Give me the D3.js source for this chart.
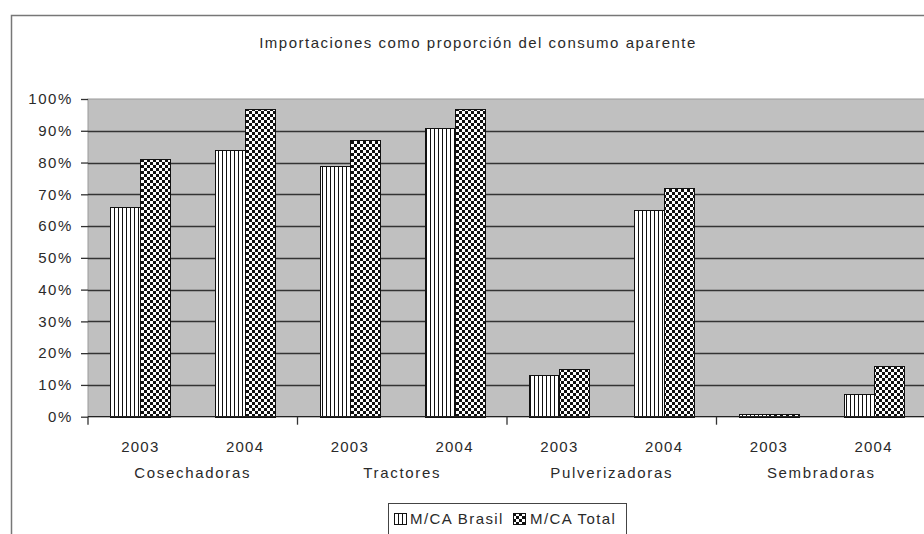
<!DOCTYPE html>
<html><head><meta charset="utf-8">
<script src="https://cdn.jsdelivr.net/npm/d3@7"></script>
<style>
html,body{margin:0;padding:0;background:#fff;}
svg{display:block;font-family:"Liberation Sans",Arial,sans-serif;}
</style></head>
<body>
<svg id="chart" width="924" height="534"></svg>
<script>
const title = "Importaciones como proporción del consumo aparente";
const categories = ["Cosechadoras","Tractores","Pulverizadoras","Sembradoras"];
const years = ["2003","2004"];
const seriesNames = ["M/CA Brasil","M/CA Total"];
const brasil = [0.66,0.84,0.79,0.91,0.13,0.65,0.01,0.07];
const total  = [0.81,0.97,0.87,0.97,0.15,0.72,0.01,0.16];
const yTicks = [0,0.1,0.2,0.3,0.4,0.5,0.6,0.7,0.8,0.9,1.0];

const svg = d3.select("#chart");
const plot = {left:88, right:926, top:99, bottom:416.7};
const textColor = "#2a2a2a";

// patterns
const defs = svg.append("defs");
const pv = defs.append("pattern").attr("id","pv").attr("patternUnits","userSpaceOnUse")
  .attr("width",4).attr("height",4);
pv.append("rect").attr("width",4).attr("height",4).attr("fill","#fff");
pv.append("rect").attr("x",2).attr("width",1).attr("height",4).attr("fill","#111");
const pc = defs.append("pattern").attr("id","pc").attr("patternUnits","userSpaceOnUse")
  .attr("width",6).attr("height",6);
pc.append("rect").attr("width",6).attr("height",6).attr("fill","#fff");
pc.append("rect").attr("width",3).attr("height",3).attr("fill","#111");
pc.append("rect").attr("x",3).attr("y",3).attr("width",3).attr("height",3).attr("fill","#111");

// chart area border
svg.append("rect").attr("x",11.5).attr("y",15.5).attr("width",960).attr("height",600)
  .attr("fill","#fff").attr("stroke","#777").attr("stroke-width",1.5);

// title
svg.append("text").attr("x",478).attr("y",48).attr("text-anchor","middle")
  .attr("font-size",15).attr("letter-spacing",1.5).attr("fill",textColor).text(title);

const y = d3.scaleLinear().domain([0,1]).range([plot.bottom, plot.top]);
const xG = d3.scaleBand().domain(categories).range([plot.left, plot.right]).padding(0);
const xY = d3.scaleBand().domain(years).range([0, xG.bandwidth()]).padding(0);
const xS = d3.scaleBand().domain(seriesNames).range([0, xY.bandwidth()]).paddingInner(0).paddingOuter(0.746);

// plot background
svg.append("rect").attr("x",plot.left).attr("y",plot.top)
  .attr("width",plot.right-plot.left).attr("height",plot.bottom-plot.top)
  .attr("fill","#c0c0c0").attr("stroke","#9a9a9a").attr("stroke-width",1);

// gridlines
svg.append("g").selectAll("line").data(yTicks.filter(d=>d>0 && d<1)).join("line")
  .attr("x1",plot.left).attr("x2",plot.right)
  .attr("y1",d=>Math.round(y(d))+0.5).attr("y2",d=>Math.round(y(d))+0.5)
  .attr("stroke","#333").attr("stroke-width",1.3);

// y axis
const yAxis = d3.axisLeft(y).tickValues(yTicks).tickFormat(d3.format(".0%")).tickSizeInner(7).tickSizeOuter(0).tickPadding(8);
const gy = svg.append("g").attr("transform",`translate(${plot.left},0)`).call(yAxis);
gy.select(".domain").remove();
gy.selectAll(".tick line").attr("stroke","#333").attr("stroke-width",1.3);
gy.selectAll(".tick text").attr("font-size",15).attr("letter-spacing",1.6)
  .attr("fill",textColor).attr("font-family","Liberation Sans, Arial, sans-serif");

// bars
const rows = [];
categories.forEach((c,i)=>years.forEach((yr,j)=>{
  const k = i*years.length + j;
  rows.push({c,yr,s:seriesNames[0],v:brasil[k],fill:"url(#pv)"});
  rows.push({c,yr,s:seriesNames[1],v:total[k],fill:"url(#pc)"});
}));
svg.append("g").selectAll("rect").data(rows).join("rect")
  .attr("x",d=>Math.round(xG(d.c)+xY(d.yr)+xS(d.s))+0.5)
  .attr("y",d=>Math.round(y(d.v))+0.5)
  .attr("width",Math.round(xS.bandwidth()))
  .attr("height",d=>Math.round(y(0))-Math.round(y(d.v)))
  .attr("fill",d=>d.fill).attr("stroke","#111").attr("stroke-width",1);

// x axis line
svg.append("line").attr("x1",plot.left).attr("x2",plot.right)
  .attr("y1",plot.bottom).attr("y2",plot.bottom).attr("stroke","#222").attr("stroke-width",1.3);
// group separator ticks
svg.append("g").selectAll("line").data(categories).join("line")
  .attr("x1",d=>xG(d)).attr("x2",d=>xG(d))
  .attr("y1",plot.bottom).attr("y2",plot.bottom+8).attr("stroke","#333").attr("stroke-width",1.3);

// year labels
const yearRows = [];
categories.forEach(c=>years.forEach(yr=>yearRows.push({c,yr})));
svg.append("g").selectAll("text").data(yearRows).join("text")
  .attr("x",d=>xG(d.c)+xY(d.yr)+xY.bandwidth()/2).attr("y",452)
  .attr("text-anchor","middle").attr("font-size",15).attr("letter-spacing",1.2)
  .attr("fill",textColor).text(d=>d.yr);
// category labels
svg.append("g").selectAll("text").data(categories).join("text")
  .attr("x",d=>xG(d)+xG.bandwidth()/2).attr("y",478)
  .attr("text-anchor","middle").attr("font-size",15).attr("letter-spacing",1.7)
  .attr("fill",textColor).text(d=>d);

// legend
const lg = svg.append("g");
lg.append("rect").attr("x",388.5).attr("y",503.5).attr("width",238).attr("height",40)
  .attr("fill","#fff").attr("stroke","#444").attr("stroke-width",1);
const lx = [394, 513];
const lt = [410, 530];
seriesNames.forEach((s,i)=>{
  lg.append("rect").attr("x",lx[i]+0.5).attr("y",513.5).attr("width",12).attr("height",11)
    .attr("fill",i===0?"url(#pv)":"url(#pc)").attr("stroke","#111").attr("stroke-width",1);
  lg.append("text").attr("x",lt[i]).attr("y",524).attr("font-size",15).attr("letter-spacing",1.4)
    .attr("fill",textColor).text(s);
});
</script>
</body></html>
